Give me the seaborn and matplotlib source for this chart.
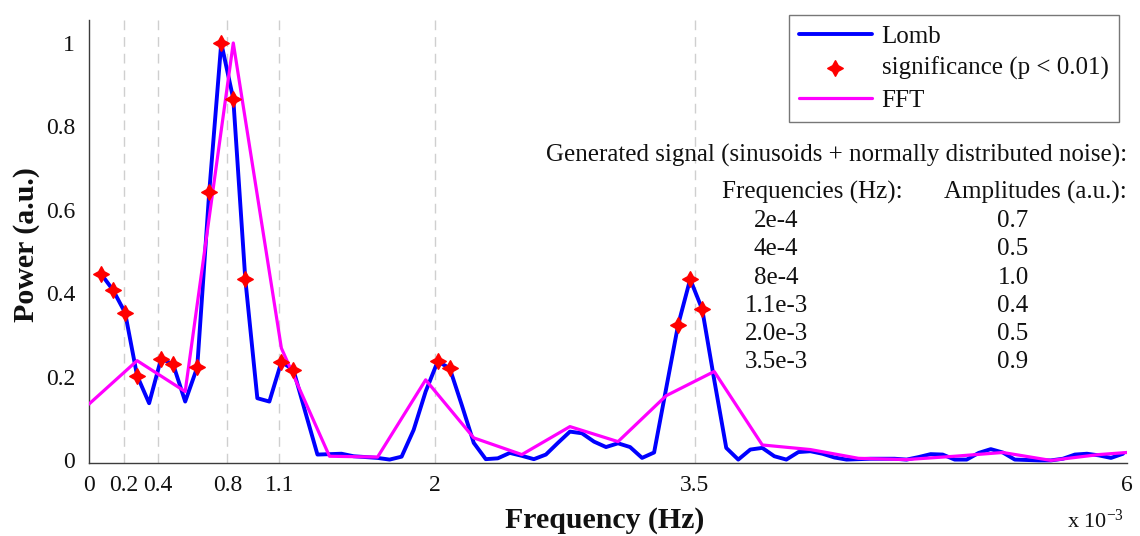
import numpy as np
import pandas as pd
import matplotlib
matplotlib.use("Agg")
import matplotlib.pyplot as plt
import seaborn as sns

# ---------------- data ----------------
lomb_step = 0.0695  # frequency grid spacing of the Lomb periodogram (x 1e-3 Hz)
lomb_power = [
    0.447, 0.408, 0.354, 0.203, 0.137, 0.244, 0.230, 0.141, 0.223, 0.643,
    1.000, 0.866, 0.434, 0.149, 0.141, 0.236, 0.217, 0.115, 0.014, 0.015,
    0.016, 0.010, 0.008, 0.006, 0.002, 0.009, 0.073, 0.165, 0.237, 0.221,
    0.133, 0.042, 0.003, 0.005, 0.018, 0.011, 0.003, 0.014, 0.042, 0.069,
    0.065, 0.045, 0.032, 0.041, 0.032, 0.006, 0.019, 0.172, 0.325, 0.434,
    0.362, 0.193, 0.030, 0.002, 0.026, 0.030, 0.010, 0.002, 0.020, 0.022,
    0.016, 0.007, 0.002, 0.003, 0.004, 0.004, 0.004, 0.002, 0.008, 0.015,
    0.014, 0.002, 0.002, 0.018, 0.027, 0.019, 0.002, 0.001, 0.000, 0.000,
    0.004, 0.014, 0.016, 0.012, 0.006, 0.016,
]
lomb_freq = lomb_step * np.arange(1, len(lomb_power) + 1)

# indices (0-based) of Lomb points flagged significant (p < 0.01)
sig_idx = [0, 1, 2, 3, 5, 6, 8, 9, 10, 11, 12, 15, 16, 28, 29, 48, 49, 50]

fft_freq = [0.0, 0.278, 0.556, 0.834, 1.112, 1.390, 1.668, 1.946, 2.224, 2.502,
            2.780, 3.058, 3.336, 3.614, 3.892, 4.170, 4.448, 4.726, 5.004, 5.282,
            5.560, 5.838, 6.0]
fft_power = [0.135, 0.239, 0.165, 1.000, 0.269, 0.010, 0.008, 0.193, 0.054, 0.014,
             0.081, 0.045, 0.155, 0.213, 0.037, 0.026, 0.005, 0.002, 0.010, 0.019,
             0.000, 0.014, 0.019]

xtick_vals = [0, 0.2, 0.4, 0.8, 1.1, 2, 3.5, 6]
xtick_labels = ["0", "0.2", "0.4", "0.8", "1.1", "2", "3.5", "6"]
grid_vals = [0.2, 0.4, 0.8, 1.1, 2, 3.5]
ytick_vals = [0, 0.2, 0.4, 0.6, 0.8, 1]
ytick_labels = ["0", "0.2", "0.4", "0.6", "0.8", "1"]

gen_freqs = ["2e-4", "4e-4", "8e-4", "1.1e-3", "2.0e-3", "3.5e-3"]
gen_amps = ["0.7", "0.5", "1.0", "0.4", "0.5", "0.9"]

# ---------------- style ----------------
sns.set_theme(style="white")
plt.rcParams["font.family"] = ["Liberation Serif", "DejaVu Serif"]
plt.rcParams["mathtext.fontset"] = "custom"
plt.rcParams["mathtext.rm"] = "Liberation Serif"
plt.rcParams["mathtext.it"] = "Liberation Serif:italic"

W, H = 1140, 536
fig = plt.figure(figsize=(W / 100, H / 100), dpi=100)
ax = fig.add_axes([89 / W, (H - 462.5) / H, (1127 - 89) / W, (462.5 - 20) / H])

lomb_df = pd.DataFrame({"f": lomb_freq, "p": lomb_power})
sig_df = lomb_df.iloc[sig_idx]
fft_df = pd.DataFrame({"f": fft_freq, "p": fft_power})

for g in grid_vals:
    ax.axvline(g, color="#cfcfcf", lw=1.0, ls=(0, (7, 5)), zorder=0)

sns.lineplot(data=lomb_df, x="f", y="p", ax=ax, color="#0000ff", lw=2.8,
             label="Lomb", zorder=3, sort=False)
star4 = (4, 1, 0)
sns.scatterplot(data=sig_df, x="f", y="p", ax=ax, color="#ff0000", marker=star4,
                s=120, edgecolor="#ff0000", linewidth=1.2,
                label="significance (p < 0.01)", zorder=5)
sns.lineplot(data=fft_df, x="f", y="p", ax=ax, color="#ff00ff", lw=2.3,
             label="FFT", zorder=4, sort=False)

ax.set_xlim(0, 6)
ax.set_ylim(-0.005, 1.055)
ax.set_xticks(xtick_vals)
ax.set_xticklabels(xtick_labels)
ax.set_yticks(ytick_vals)
ax.set_yticklabels(ytick_labels)
ax.set_xlabel("")
ax.set_ylabel("")
for s in ["top", "right"]:
    ax.spines[s].set_visible(False)
for s in ["left", "bottom"]:
    ax.spines[s].set_color("#3c3c3c")
    ax.spines[s].set_linewidth(1.0)
ax.tick_params(axis="both", direction="in", length=5, width=1, color="#3c3c3c",
               labelsize=17, labelcolor="#111111")
ax.tick_params(axis="x", pad=9)
ax.tick_params(axis="y", pad=10)

leg = ax.legend(loc="upper right", bbox_to_anchor=(1119 / W, 1 - 15 / H),
                bbox_transform=fig.transFigure, frameon=True, fancybox=False,
                fontsize=18, handlelength=2.9, handletextpad=0.4,
                borderpad=0.42, labelspacing=0.36, borderaxespad=0)
leg.get_frame().set_edgecolor("#555555")
leg.get_frame().set_linewidth(1.0)
for t in leg.get_texts():
    t.set_color("#111111")

def ftext(x, y, s, **kw):
    fig.text(x / W, 1 - y / H, s, va="center", color="#111111", **kw)

ftext(27, 245, "Power (a.u.)", rotation=90, ha="center", fontsize=21.5, fontweight="bold")
ftext(605, 520, "Frequency (Hz)", ha="center", fontsize=21.5, fontweight="bold")
ftext(1096, 521, r"x 10$^{-3}$", ha="center", fontsize=16)

ftext(1127, 155, "Generated signal (sinusoids + normally distributed noise):",
      ha="right", fontsize=18)
ftext(812, 192, "Frequencies (Hz):", ha="center", fontsize=18)
ftext(1127, 192, "Amplitudes (a.u.):", ha="right", fontsize=18)
for i, (fq, am) in enumerate(zip(gen_freqs, gen_amps)):
    yy = 221 + i * 28.3
    ftext(776, yy, fq, ha="center", fontsize=18)
    ftext(1013, yy, am, ha="center", fontsize=18)

fig.savefig("out.png", dpi=100)
